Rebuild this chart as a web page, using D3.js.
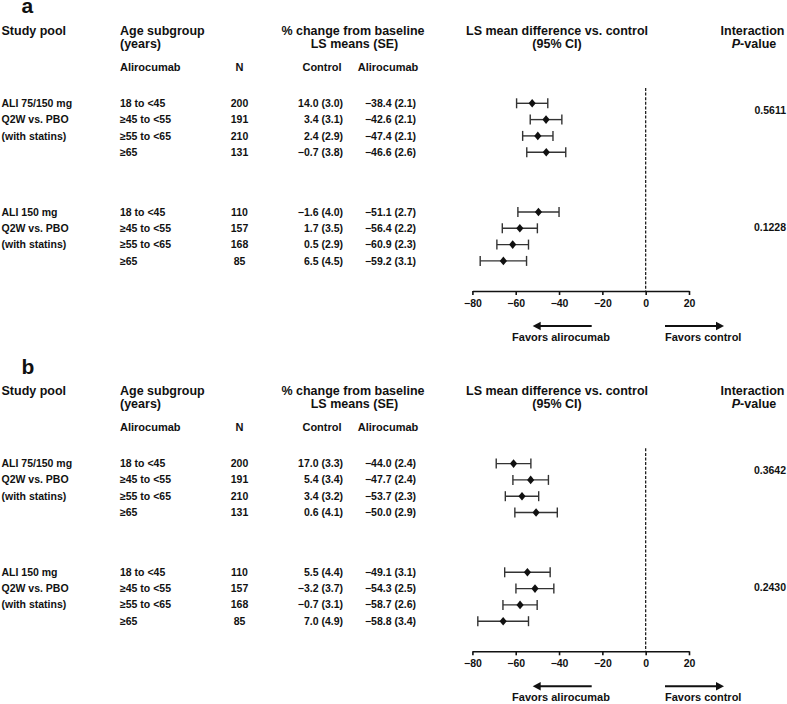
<!DOCTYPE html>
<html>
<head>
<meta charset="utf-8">
<script src="https://cdn.jsdelivr.net/npm/d3@7"></script>
<style>
  html, body { margin: 0; padding: 0; background: #fff; }
  svg { display: block; font-family: "Liberation Sans", Arial, Helvetica, sans-serif; font-weight: bold; }
</style>
</head>
<body>
<svg id="chart" width="787" height="704"></svg>
<script>
// ---------------- DATA ----------------
const panelLabels = ["a", "b"];
const ageGroups = ["18 to <45", "\u226545 to <55", "\u226555 to <65", "\u226565"];
const poolLabels = [
  ["ALI 75/150 mg", "Q2W vs. PBO", "(with statins)"],
  ["ALI 150 mg", "Q2W vs. PBO", "(with statins)"]
];
const nValues = [[200, 191, 210, 131], [110, 157, 168, 85]];

// Panel a
const controlMeanA = [[14.0, 3.4, 2.4, -0.7], [-1.6, 1.7, 0.5, 6.5]];
const controlSeA   = [[3.0, 3.1, 2.9, 3.8], [4.0, 3.5, 2.9, 4.5]];
const aliMeanA     = [[-38.4, -42.6, -47.4, -46.6], [-51.1, -56.4, -60.9, -59.2]];
const aliSeA       = [[2.1, 2.1, 2.1, 2.6], [2.7, 2.2, 2.3, 3.1]];
const diffA        = [[-52.4, -46.0, -49.8, -45.9], [-49.5, -58.1, -61.4, -65.7]];
const loA          = [[-59.6, -53.3, -56.8, -54.9], [-59.0, -66.2, -68.7, -76.4]];
const hiA          = [[-45.2, -38.7, -42.8, -36.9], [-40.0, -50.0, -54.1, -55.0]];
const pValuesA     = ["0.5611", "0.1228"];

// Panel b
const controlMeanB = [[17.0, 5.4, 3.4, 0.6], [5.5, -3.2, -0.7, 7.0]];
const controlSeB   = [[3.3, 3.4, 3.2, 4.1], [4.4, 3.7, 3.1, 4.9]];
const aliMeanB     = [[-44.0, -47.7, -53.7, -50.0], [-49.1, -54.3, -58.7, -58.8]];
const aliSeB       = [[2.4, 2.4, 2.3, 2.9], [3.1, 2.5, 2.6, 3.4]];
const diffB        = [[-61.0, -53.1, -57.1, -50.6], [-54.6, -51.1, -58.0, -65.8]];
const loB          = [[-69.0, -61.3, -64.8, -60.4], [-65.1, -59.9, -65.9, -77.5]];
const hiB          = [[-53.0, -44.9, -49.4, -40.8], [-44.1, -42.4, -50.1, -54.1]];
const pValuesB     = ["0.3642", "0.2430"];

const xTicks = [-80, -60, -40, -20, 0, 20];
const xDomain = [-80, 20];

// ---------------- DRAW ----------------
const svg = d3.select("#chart");
svg.append("rect").attr("width", 787).attr("height", 704).attr("fill", "#fff");

const x = d3.scaleLinear().domain(xDomain).range([472.4, 689]);
const f1 = d3.format(".1f");
const ink = "#111";

const panels = [
  { label: panelLabels[0], cm: controlMeanA, cs: controlSeA, am: aliMeanA, as: aliSeA, d: diffA, lo: loA, hi: hiA, p: pValuesA, dy: 0 },
  { label: panelLabels[1], cm: controlMeanB, cs: controlSeB, am: aliMeanB, as: aliSeB, d: diffB, lo: loB, hi: hiB, p: pValuesB, dy: 360.3 }
];

const groupStart = [103.3, 212];
const rowStep = 16.3;
const pOffset = [7, 15];

panels.forEach(P => {
  const g = svg.append("g").attr("transform", `translate(0,${P.dy})`);
  const T = (txt, xx, yy, size, anchor, extra) => {
    const t = g.append("text").attr("x", xx).attr("y", yy)
      .attr("font-size", size).attr("text-anchor", anchor || "start")
      .attr("fill", ink).text(txt);
    return t;
  };
  // panel label
  T(P.label, 21.5, 13.3, 21, "start");
  // headers
  T("Study pool", 1.5, 35, 12.5);
  T("Age subgroup", 120, 35, 12.5);
  T("(years)", 120, 47.5, 12.5);
  T("% change from baseline", 353, 35, 12.5, "middle");
  T("LS means (SE)", 354.5, 47.5, 12.5, "middle");
  T("LS mean difference vs. control", 557, 35, 12.5, "middle");
  T("(95% CI)", 557, 47.5, 12.5, "middle");
  T("Interaction", 752.5, 35, 12.5, "middle");
  const pv = g.append("text").attr("x", 754).attr("y", 47.5).attr("font-size", 12.5)
    .attr("text-anchor", "middle").attr("fill", ink);
  pv.append("tspan").attr("font-style", "italic").text("P");
  pv.append("tspan").text("-value");
  // sub headers
  T("Alirocumab", 120, 71, 11);
  T("N", 239.5, 71, 11, "middle");
  T("Control", 322, 71, 11, "middle");
  T("Alirocumab", 388, 71, 11, "middle");

  // dashed zero line
  g.append("line")
    .attr("x1", x(0)).attr("x2", x(0))
    .attr("y1", 88).attr("y2", 291)
    .attr("stroke", ink).attr("stroke-width", 1.2)
    .attr("stroke-dasharray", "3,1.6");

  // rows
  [0, 1].forEach(gi => {
    const y0 = groupStart[gi];
    poolLabels[gi].forEach((lab, li) => {
      T(lab, 1.5, y0 + li * rowStep + 3.6, 10.5);
    });
    ageGroups.forEach((ag, ri) => {
      const yy = y0 + ri * rowStep;
      T(ag, 120, yy + 3.6, 10.5);
      T(String(nValues[gi][ri]), 239.5, yy + 3.6, 10.5, "middle");
      T(`${f1(P.cm[gi][ri])} (${f1(P.cs[gi][ri])})`, 343, yy + 3.6, 10.5, "end");
      T(`${f1(P.am[gi][ri])} (${f1(P.as[gi][ri])})`, 416, yy + 3.6, 10.5, "end");
      // CI
      const lo = x(P.lo[gi][ri]), hi = x(P.hi[gi][ri]), cx = x(P.d[gi][ri]);
      g.append("line").attr("x1", lo).attr("x2", hi).attr("y1", yy).attr("y2", yy)
        .attr("stroke", "#333").attr("stroke-width", 1.4);
      [lo, hi].forEach(xx => {
        g.append("line").attr("x1", xx).attr("x2", xx).attr("y1", yy - 5).attr("y2", yy + 5)
          .attr("stroke", "#333").attr("stroke-width", 1.4);
      });
      g.append("path")
        .attr("d", "M0,-4.3L3.6,0L0,4.3L-3.6,0Z")
        .attr("transform", `translate(${cx},${yy})`)
        .attr("fill", ink);
    });
    T(P.p[gi], 786, y0 + pOffset[gi] + 3.8, 10.5, "end");
  });

  // axis
  const axis = d3.axisBottom(x).tickValues(xTicks).tickSizeInner(4).tickSizeOuter(0)
    .tickFormat(d3.format("d"));
  const ag = g.append("g").attr("transform", "translate(0,291)").call(axis);
  ag.select(".domain").attr("stroke", ink).attr("stroke-width", 1.6);
  ag.selectAll(".tick line").attr("stroke", ink).attr("stroke-width", 1.6);
  ag.selectAll(".tick text").attr("font-size", 10.5).attr("font-family", "Liberation Sans, Arial, sans-serif")
    .attr("font-weight", "bold").attr("fill", ink).attr("dy", null).attr("y", 15.5);

  // favors arrows
  const ay = 326;
  const arrow = (xFrom, xTo) => {
    const dir = Math.sign(xTo - xFrom);
    g.append("line").attr("x1", xFrom).attr("x2", xTo - dir * 6).attr("y1", ay).attr("y2", ay)
      .attr("stroke", ink).attr("stroke-width", 2);
    g.append("path")
      .attr("d", `M${xTo},${ay}L${xTo - dir * 8},${ay - 4.2}L${xTo - dir * 8},${ay + 4.2}Z`)
      .attr("fill", ink);
  };
  arrow(591.7, 532.7);
  arrow(665, 724);
  T("Favors alirocumab", 561, 340.7, 11, "middle");
  T("Favors control", 665, 340.7, 11, "start");
});
</script>
</body>
</html>
